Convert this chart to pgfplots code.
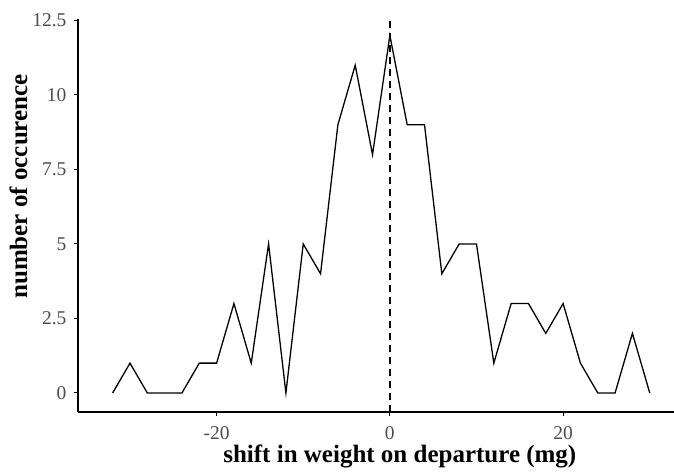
\documentclass[border=0pt]{standalone}
\usepackage{fontspec}
\setmainfont{Liberation Serif}
\usepackage{pgfplots}
\pgfplotsset{compat=1.18}
\definecolor{tickgray}{HTML}{4D4D4D}

\begin{document}
\begin{tikzpicture}
\begin{axis}[
    at={(0,0)}, anchor=south west,
    scale only axis,
    width=596pt, height=393pt,
    xmin=-36, xmax=32.8,
    ymin=-0.64, ymax=12.55,
    axis lines*=left,
    axis line style={black, line width=1.3pt},
    xtick={-20,0,20},
    xticklabels={{-20},{0},{20}},
    ytick={0,2.5,5,7.5,10,12.5},
    yticklabels={0,2.5,5,7.5,10,12.5},
    tick align=outside,
    major tick length=4pt,
    tick style={black, line width=1pt},
    tick label style={font=\fontsize{19.5}{21}\selectfont, text=tickgray},
    xticklabel style={yshift=-7pt},
    yticklabel style={xshift=-4pt},
    xlabel={\textbf{shift in weight on departure (mg)}},
    ylabel={\textbf{number of occurence}},
    label style={font=\fontsize{25}{28}\selectfont},
    xlabel style={at={(ticklabel cs:0.54)}, yshift=2pt},
    ylabel style={at={(ticklabel cs:0.574)}, yshift=-2pt},
]
\addplot[black, line width=1.3pt] coordinates {
(-32,0) (-30,1) (-28,0) (-26,0) (-24,0) (-22,1) (-20,1) (-18,3)
(-16,1) (-14,5) (-12,0) (-10,5) (-8,4) (-6,9) (-4,11) (-2,8)
(0,12) (2,9) (4,9) (6,4) (8,5) (10,5) (12,1) (14,3)
(16,3) (18,2) (20,3) (22,1) (24,0) (26,0) (28,2) (30,0)
};
\addplot[black, line width=1.4pt, dash pattern=on 7pt off 5pt] coordinates {(0,-0.64) (0,12.55)};
\end{axis}
\pgfresetboundingbox
\path (-78pt,-63pt) rectangle (596pt,412pt);
\end{tikzpicture}
\end{document}
